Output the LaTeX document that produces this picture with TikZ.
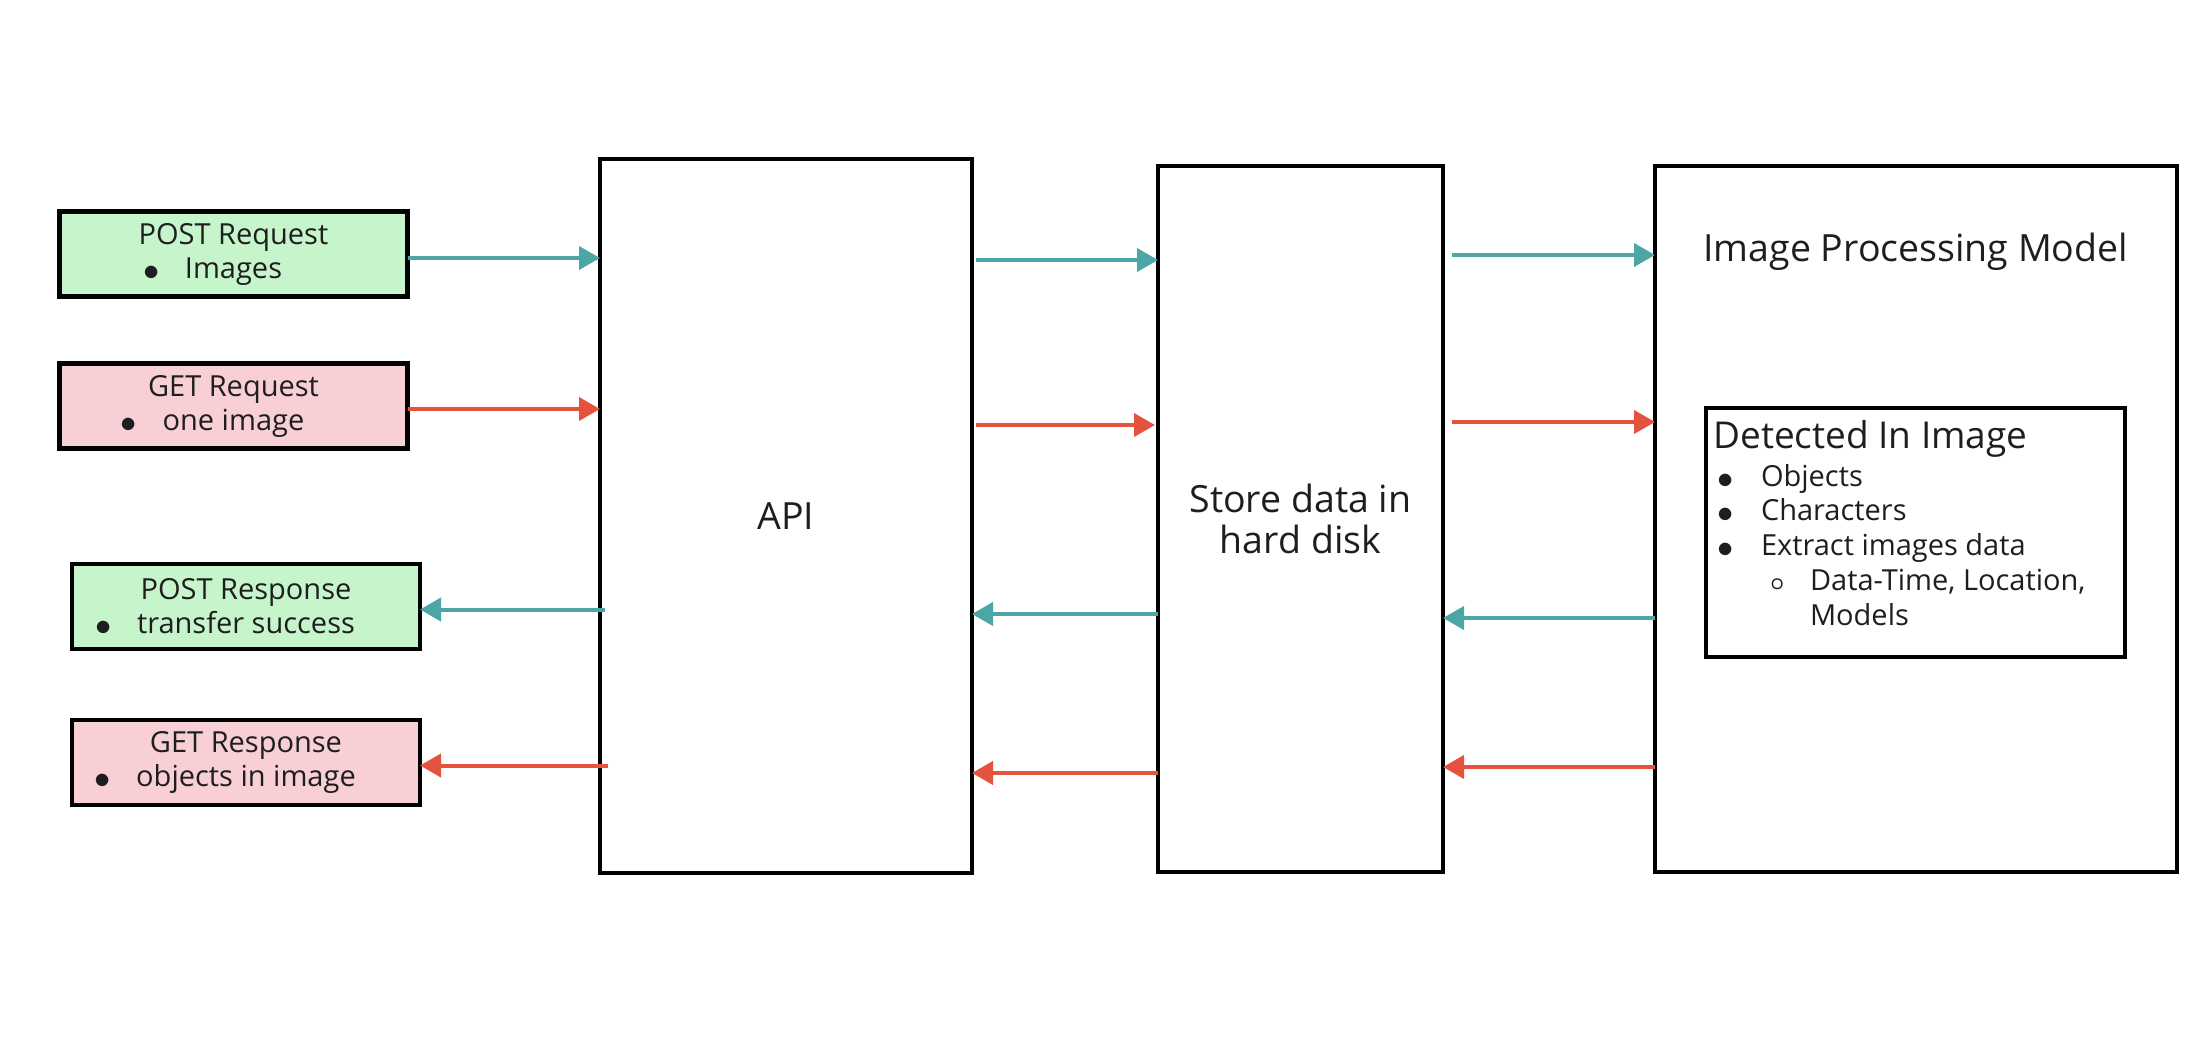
\documentclass[tikz,border=0pt]{standalone}
\usepackage{fontspec}
\setmainfont{Open Sans}
\usetikzlibrary{arrows.meta,positioning}
\definecolor{reqgreen}{RGB}{198,244,203}
\definecolor{reqpink}{RGB}{247,207,213}
\definecolor{flowteal}{RGB}{77,166,166}
\definecolor{flowred}{RGB}{229,83,62}
\definecolor{inktext}{RGB}{30,30,30}
\newcommand{\listdot}{\raisebox{-2pt}{\scalebox{1.3}{$\bullet$}}}

\begin{document}
\begin{tikzpicture}[x=1pt,y=-1pt,
  every node/.style={text=inktext,outer sep=0pt},
  bigbox/.style={draw,line width=4.5pt,align=center,font=\fontsize{37.5}{41}\selectfont},
  smallbox/.style={draw,line width=4.5pt,align=center,minimum width=348pt,minimum height=85pt,font=\fontsize{29}{34}\selectfont},
  tealarr/.style={draw=flowteal,line width=4pt,-{Triangle[length=21pt,width=23pt]}},
  redarr/.style={draw=flowred,line width=4pt,-{Triangle[length=21pt,width=23pt]}}]
\useasboundingbox (0,0) rectangle (2212,1050);
% main blocks
\node[bigbox,minimum width=372pt,minimum height=714pt] (api) at (786,516) {API};
\node[bigbox,minimum width=285pt,minimum height=706pt] (store) at (1300.5,519) {Store data in\\hard disk};
\node[bigbox,minimum width=522pt,minimum height=706pt] (ipm) at (1916,519) {};
\node[anchor=base west,font=\fontsize{37.5}{42}\selectfont] (ipmtitle) at (1700,261) {Image Processing Model};
\node[draw,line width=4.5pt,minimum width=419pt,minimum height=249pt] (detbox) at (1915.5,532.5) {};
\node[anchor=base west,font=\fontsize{37}{42}\selectfont] (dettitle) at (1710,448) {Detected In Image};
\node[anchor=north west,align=left,inner sep=0pt,font=\fontsize{29}{34.8}\selectfont] (detlist) at (1711,464) {%
  \makebox[50pt][l]{\hspace{6.5pt}\listdot}Objects\\
  \makebox[50pt][l]{\hspace{6.5pt}\listdot}Characters\\
  \makebox[50pt][l]{\hspace{6.5pt}\listdot}Extract images data\\
  \makebox[99pt][l]{\hspace{59pt}{\boldmath$\circ$}}Data-Time, Location,\\
  \hspace*{99pt}Models};
% requests and responses
\node[smallbox,fill=reqgreen] (postreq) at (233.5,254) {POST Request\\\llap{\listdot\hspace{25.5pt}}Images};
\node[smallbox,fill=reqpink] (getreq) at (233.5,406) {GET Request\\\llap{\listdot\hspace{25.5pt}}one image};
\node[smallbox,fill=reqgreen] (postresp) at (246,606.5) {POST Response\\\llap{\listdot\hspace{25.5pt}}transfer success};
\node[smallbox,fill=reqpink] (getresp) at (246,762.5) {GET Response\\\llap{\listdot\hspace{25.5pt}}objects in image};
% rows between the blocks
\coordinate (qa) at ([yshift=-4pt]postreq.east);
\coordinate (qb) at ([yshift=-3pt]getreq.east);
\coordinate (qc) at ([yshift=-3pt]postresp.east);
\coordinate (qd) at ([yshift=-3pt]getresp.east);
\coordinate (ra) at (0,260);
\coordinate (rb) at (0,425);
\coordinate (rc) at (0,614);
\coordinate (rd) at (0,773);
\coordinate (sa) at (0,255);
\coordinate (sb) at (0,422);
\coordinate (sc) at (0,618);
\coordinate (sd) at (0,767);
\draw[tealarr] (qa) -- (qa -| api.west);
\draw[redarr] (qb) -- (qb -| api.west);
\draw[tealarr,shorten <=-5pt] (qc -| api.west) -- (qc);
\draw[redarr,shorten <=-8pt] (qd -| api.west) -- (qd);
\draw[tealarr,shorten <=4pt] (api.east |- ra) -- (store.west |- ra);
\draw[redarr,shorten <=4pt,shorten >=3pt] (api.east |- rb) -- (store.west |- rb);
\draw[tealarr] (store.west |- rc) -- (api.east |- rc);
\draw[redarr] (store.west |- rd) -- (api.east |- rd);
\draw[tealarr,shorten <=9pt] (store.east |- sa) -- (ipm.west |- sa);
\draw[redarr,shorten <=9pt] (store.east |- sb) -- (ipm.west |- sb);
\draw[tealarr] (ipm.west |- sc) -- (store.east |- sc);
\draw[redarr] (ipm.west |- sd) -- (store.east |- sd);
\end{tikzpicture}
\end{document}
